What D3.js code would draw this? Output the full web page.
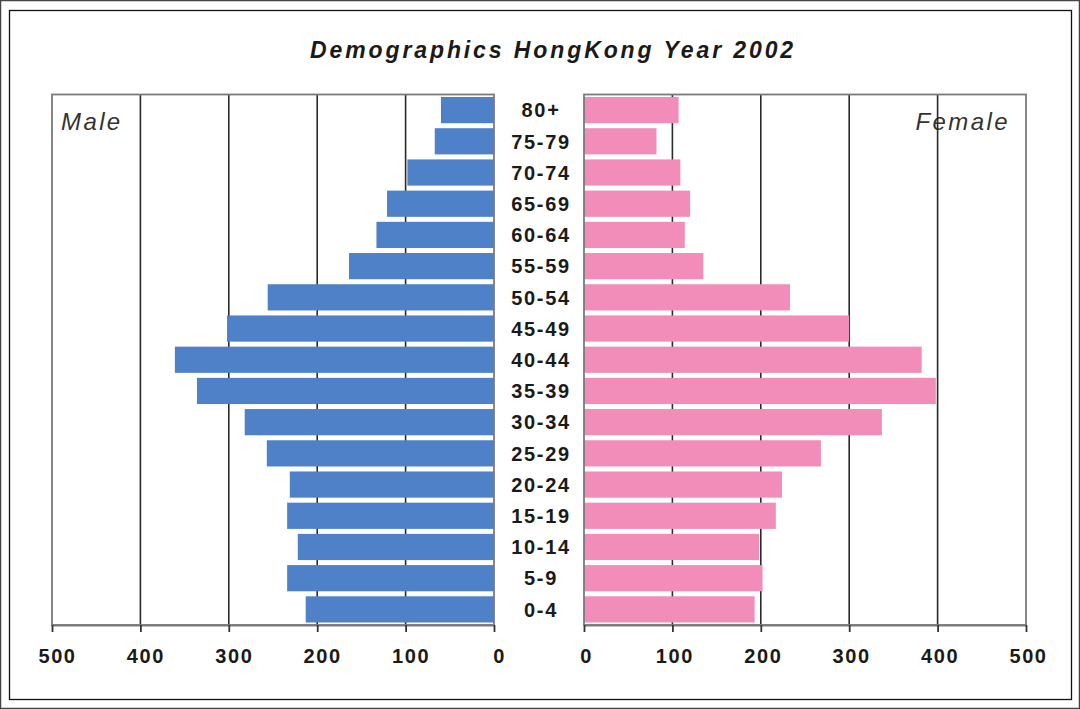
<!DOCTYPE html>
<html>
<head>
<meta charset="utf-8">
<script src="https://cdn.jsdelivr.net/npm/d3@7"></script>
<style>
  html, body { margin: 0; padding: 0; background: #fff; }
  svg { display: block; }
</style>
</head>
<body>
<div id="chart"></div>
<script>
// ---- data ----
const ageGroups = ["80+", "75-79", "70-74", "65-69", "60-64", "55-59", "50-54", "45-49",
  "40-44", "35-39", "30-34", "25-29", "20-24", "15-19", "10-14", "5-9", "0-4"];
const maleValues = [60, 67, 98, 121, 133, 164, 256, 302, 361, 336, 282, 257, 231, 234, 222, 234, 213];
const femaleValues = [107, 82, 109, 120, 114, 135, 233, 300, 382, 398, 337, 268, 224, 217, 198, 202, 193];
const tickValues = [0, 100, 200, 300, 400, 500];
const titleText = "Demographics HongKong Year 2002";

// ---- layout ----
const W = 1080, H = 709;
const plotTop = 94.5, plotBottom = 625;
const maleColor = "#4f81c9", femaleColor = "#f28db9";
const frameColor = "#7a7a7a", gridColor = "#2a2a2a";
const font = "'Liberation Sans', Arial, Helvetica, sans-serif";

const svg = d3.select("#chart").append("svg")
  .attr("width", W).attr("height", H)
  .style("font-family", font);

// picture frame
svg.append("rect").attr("x", 0.5).attr("y", 0.5).attr("width", W - 1).attr("height", H - 1)
  .attr("fill", "#fff").attr("stroke", "#444").attr("stroke-width", 1.5);
svg.append("rect").attr("x", 9.5).attr("y", 10.5).attr("width", 1062).attr("height", 689)
  .attr("fill", "none").attr("stroke", "#111").attr("stroke-width", 1.3);

const xMale = d3.scaleLinear().domain([0, 500]).range([494, 52]);
const xFemale = d3.scaleLinear().domain([0, 500]).range([584, 1026]);
const y = d3.scaleBand().domain(ageGroups).range([plotTop, plotBottom])
  .paddingInner(0.16).paddingOuter(0.08);

// title
svg.append("text")
  .attr("x", 553).attr("y", 58)
  .attr("text-anchor", "middle")
  .style("font-size", "23px").style("font-weight", "bold").style("font-style", "italic")
  .style("letter-spacing", "2.9px")
  .attr("fill", "#1a1a1a")
  .text(titleText);

function drawPanel(x, values, color, side) {
  const g = svg.append("g");
  const [r0, r1] = x.range();
  const left = Math.min(r0, r1), right = Math.max(r0, r1);

  // side label (under grid lines)
  g.append("text")
    .attr("x", side === "left" ? 61 : 1010)
    .attr("y", 129.5)
    .attr("text-anchor", side === "left" ? "start" : "end")
    .style("font-size", "24px").style("font-style", "italic")
    .style("letter-spacing", "2.4px")
    .attr("fill", "#333")
    .text(side === "left" ? "Male" : "Female");

  // grid lines
  g.selectAll(".grid")
    .data(tickValues.filter(d => d > 0 && d < 500))
    .enter().append("line")
    .attr("x1", d => x(d)).attr("x2", d => x(d))
    .attr("y1", plotTop).attr("y2", plotBottom)
    .attr("stroke", gridColor).attr("stroke-width", 1.6);

  // bars
  g.selectAll(".bar")
    .data(values)
    .enter().append("rect")
    .attr("x", d => Math.min(x(0), x(d)))
    .attr("width", d => Math.abs(x(d) - x(0)))
    .attr("y", (d, i) => y(ageGroups[i]))
    .attr("height", y.bandwidth())
    .attr("fill", color);

  // panel frame
  g.append("rect")
    .attr("x", left).attr("y", plotTop)
    .attr("width", right - left).attr("height", plotBottom - plotTop)
    .attr("fill", "none").attr("stroke", frameColor).attr("stroke-width", 1.8);

  // axis
  const axis = g.append("g")
    .attr("transform", `translate(0,${plotBottom})`)
    .call(d3.axisBottom(x).tickValues(tickValues).tickSize(7).tickPadding(17).tickSizeOuter(0));
  axis.select(".domain").attr("stroke", frameColor).attr("stroke-width", 1.8);
  axis.selectAll(".tick line").attr("stroke", "#333").attr("stroke-width", 1.8);
  axis.selectAll(".tick text")
    .attr("fill", "#1a1a1a")
    .attr("dx", side === "left" ? 5 : 2)
    .style("font-family", font)
    .style("font-size", "20px").style("font-weight", "bold")
    .style("letter-spacing", "1.6px");
}

drawPanel(xMale, maleValues, maleColor, "left");
drawPanel(xFemale, femaleValues, femaleColor, "right");

// age labels
svg.selectAll(".age")
  .data(ageGroups)
  .enter().append("text")
  .attr("x", 541)
  .attr("y", d => y(d) + y.bandwidth() / 2)
  .attr("dy", "0.36em")
  .attr("text-anchor", "middle")
  .style("font-size", "20px").style("font-weight", "bold")
  .style("letter-spacing", "1.7px")
  .attr("fill", "#1a1a1a")
  .text(d => d);
</script>
</body>
</html>
